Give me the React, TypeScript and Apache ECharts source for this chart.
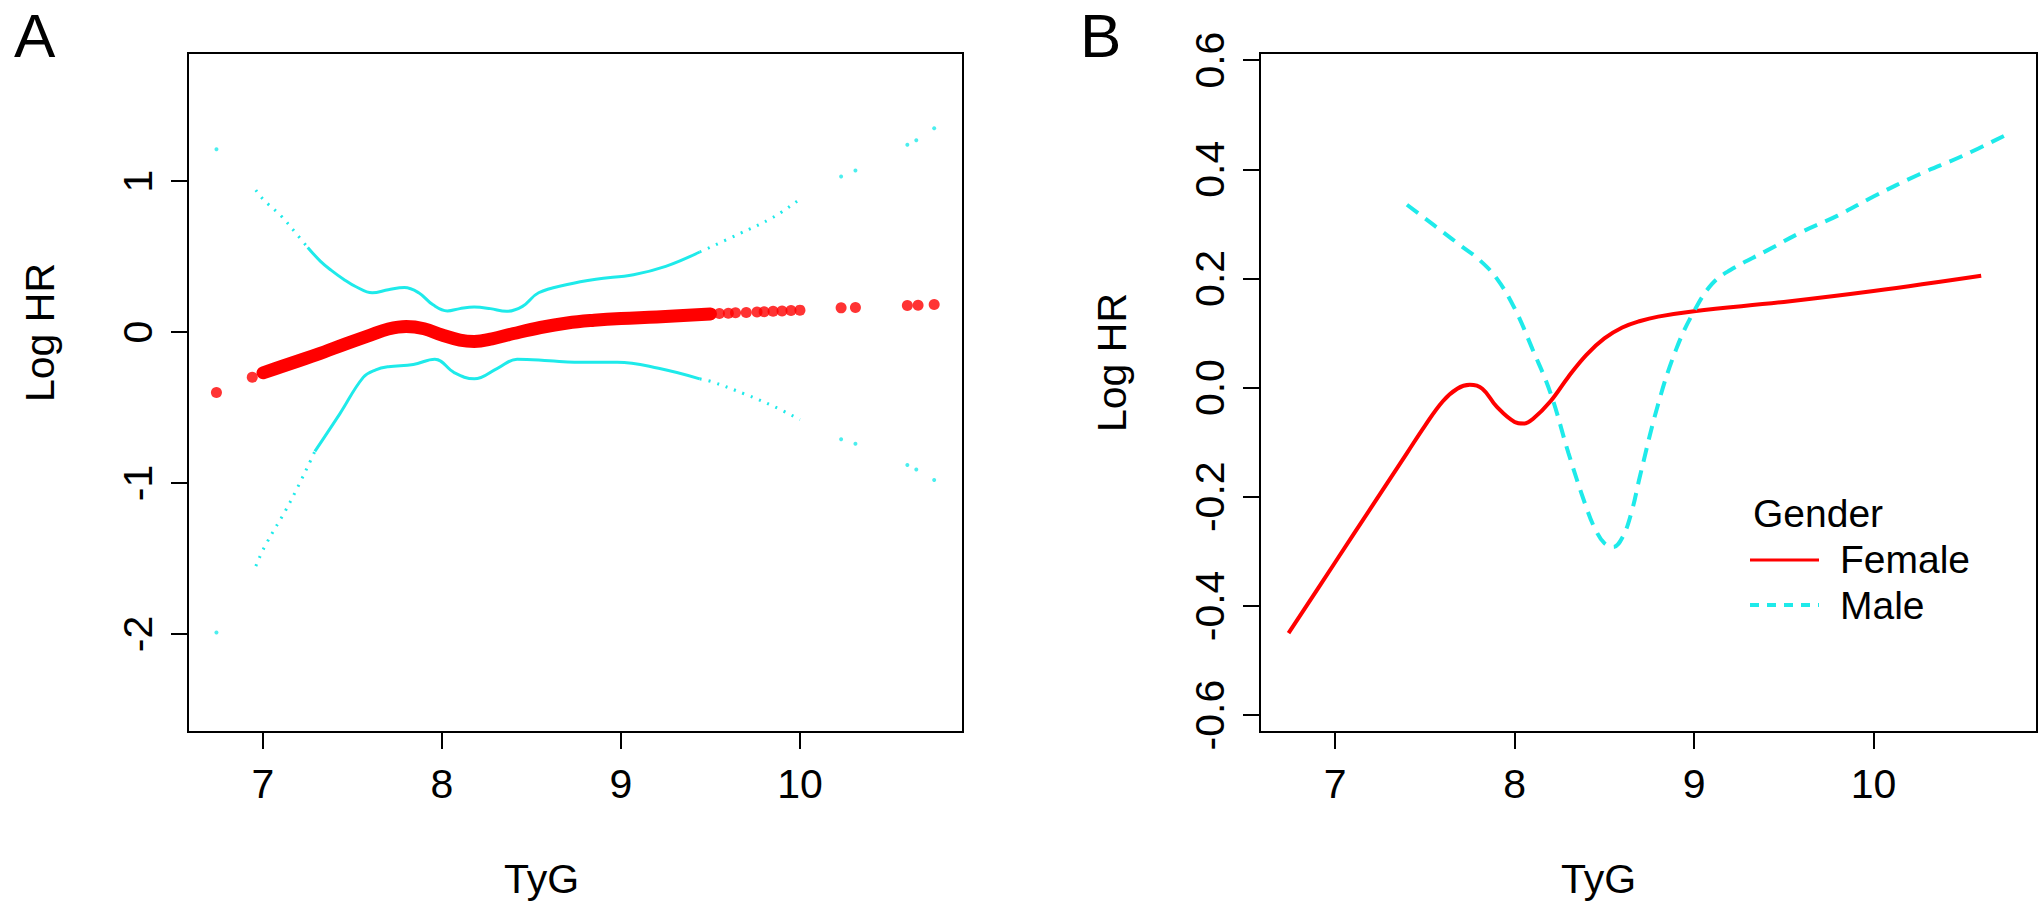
import React, { useEffect, useRef } from "react";
import * as echarts from "echarts";

const FONT = "'Liberation Sans', Arial, Helvetica, sans-serif";
const RED = "#FF0000";
const CYAN = "#1EEAEA";

// ---------- Panel A (overall) ----------
const aTicksX = [7, 8, 9, 10];
const aTicksY = [-2, -1, 0, 1];

// estimate (dense band)
const aEstX = [7.0, 7.1, 7.2, 7.3, 7.47, 7.6, 7.7, 7.8, 7.9, 8.0, 8.1, 8.18, 8.28, 8.4, 8.55, 8.7, 8.85, 9.0, 9.2, 9.5];
const aEstY = [-0.27, -0.23, -0.19, -0.15, -0.075, -0.02, 0.02, 0.037, 0.022, -0.02, -0.053, -0.062, -0.045, -0.01, 0.03, 0.06, 0.078, 0.09, 0.1, 0.12];
// estimate (isolated points)
const aDotX = [6.74, 6.94, 9.55, 9.6, 9.64, 9.7, 9.76, 9.8, 9.85, 9.9, 9.95, 10.0, 10.23, 10.31, 10.6, 10.66, 10.75];
const aDotY = [-0.4, -0.3, 0.122, 0.125, 0.127, 0.13, 0.133, 0.135, 0.137, 0.14, 0.142, 0.145, 0.16, 0.163, 0.175, 0.178, 0.182];

// upper CI
const aUpSolidX = [7.25, 7.32, 7.38, 7.45, 7.52, 7.61, 7.7, 7.79, 7.87, 7.95, 8.03, 8.1, 8.18, 8.27, 8.36, 8.45, 8.54, 8.7, 8.86, 9.07, 9.25, 9.44];
const aUpSolidY = [0.56, 0.47, 0.41, 0.35, 0.3, 0.26, 0.28, 0.295, 0.26, 0.18, 0.14, 0.155, 0.165, 0.155, 0.137, 0.17, 0.26, 0.315, 0.35, 0.38, 0.435, 0.53];
const aUpSparseX = [6.96, 7.0, 7.1, 7.18, 7.25, null, 9.44, 9.66, 9.85, 10.0];
const aUpSparseY = [0.94, 0.88, 0.77, 0.66, 0.56, null, 0.53, 0.65, 0.76, 0.88];
const aUpDotX = [6.74, 10.23, 10.31, 10.6, 10.65, 10.75];
const aUpDotY = [1.21, 1.03, 1.07, 1.24, 1.27, 1.35];

// lower CI
const aLoSolidX = [7.29, 7.43, 7.56, 7.63, 7.7, 7.84, 7.96, 8.07, 8.18, 8.31, 8.42, 8.6, 8.74, 8.98, 9.21, 9.44];
const aLoSolidY = [-0.79, -0.54, -0.3, -0.25, -0.23, -0.215, -0.18, -0.27, -0.31, -0.24, -0.18, -0.19, -0.2, -0.2, -0.24, -0.31];
const aLoSparseX = [6.96, 7.01, 7.15, 7.29, null, 9.44, 9.51, 9.69, 9.85, 10.0];
const aLoSparseY = [-1.55, -1.42, -1.13, -0.79, null, -0.31, -0.33, -0.41, -0.49, -0.58];
const aLoDotX = [6.74, 10.23, 10.31, 10.6, 10.65, 10.75];
const aLoDotY = [-1.99, -0.71, -0.74, -0.88, -0.91, -0.98];

// ---------- Panel B (by gender) ----------
const bTicksX = [7, 8, 9, 10];
const bTicksY = [-0.6, -0.4, -0.2, 0, 0.2, 0.4, 0.6];
const femaleX = [6.74, 7.0, 7.2, 7.4, 7.5, 7.6, 7.68, 7.75, 7.82, 7.9, 8.0, 8.05, 8.1, 8.2, 8.3, 8.4, 8.5, 8.6, 8.7, 8.8, 9.0, 9.5, 10.0, 10.6];
const femaleY = [-0.45, -0.32, -0.22, -0.12, -0.07, -0.025, -0.002, 0.005, -0.002, -0.035, -0.063, -0.066, -0.058, -0.025, 0.02, 0.06, 0.09, 0.11, 0.122, 0.13, 0.14, 0.157, 0.177, 0.205];
const maleX = [7.4, 7.5, 7.6, 7.7, 7.8, 7.9, 8.0, 8.1, 8.2, 8.3, 8.4, 8.45, 8.5, 8.55, 8.6, 8.65, 8.7, 8.8, 8.9, 9.0, 9.1, 9.2, 9.4, 9.6, 9.8, 10.0, 10.25, 10.5, 10.75];
const maleY = [0.335, 0.31, 0.285, 0.26, 0.235, 0.2, 0.145, 0.07, -0.01, -0.12, -0.22, -0.26, -0.285, -0.292, -0.275, -0.23, -0.16, -0.03, 0.07, 0.14, 0.19, 0.215, 0.25, 0.285, 0.315, 0.35, 0.39, 0.425, 0.465];

const legendTitle = "Gender";
const legendNames = ["Female", "Male"];

const zip = (xs: (number | null)[], ys: (number | null)[]) =>
  xs.map((x, i) => (x === null ? [null, null] : [x, ys[i]]));

function App() {
  const ref = useRef<HTMLDivElement>(null);
  useEffect(() => {
    document.body.style.margin = "0";
    const chart = echarts.init(ref.current!, null, { renderer: "svg" });

    const axisCommon = {
      type: "value" as const,
      axisLine: { show: false, onZero: false },
      splitLine: { show: false },
      nameLocation: "middle" as const,
    };
    const nameStyle = (padding: number[]) => ({ fontSize: 41, color: "#000", fontFamily: FONT, padding });
    const xAxisFor = (grid: number, ticks: number[], shift: number) => ({
      ...axisCommon,
      gridIndex: grid,
      min: 6.581,
      max: 10.911,
      name: "TyG",
      nameGap: 126,
      nameTextStyle: nameStyle([0, shift, 0, 0]),
      axisTick: { show: true, length: 17, customValues: ticks, lineStyle: { color: "#000", width: 2 } },
      axisLabel: { customValues: ticks, margin: 31, fontSize: 41, color: "#000", fontFamily: FONT },
    });
    const yAxisFor = (grid: number, ticks: number[], min: number, max: number, fmt: (v: number) => string, shift: number) => ({
      ...axisCommon,
      gridIndex: grid,
      min,
      max,
      name: "Log HR",
      nameGap: 128,
      nameRotate: 90,
      nameTextStyle: nameStyle([0, 0, 0, shift]),
      axisTick: { show: true, length: 17, customValues: ticks, lineStyle: { color: "#000", width: 2 } },
      axisLabel: { customValues: ticks, rotate: 90, margin: 30, fontSize: 41, color: "#000", fontFamily: FONT, formatter: fmt },
    });

    const option: any = {
      animation: false,
      backgroundColor: "#fff",
      grid: [
        { left: 188, top: 53, width: 775, height: 679, show: true, borderColor: "#000", borderWidth: 2, containLabel: false },
        { left: 1260, top: 53, width: 777, height: 679, show: true, borderColor: "#000", borderWidth: 2, containLabel: false },
      ],
      xAxis: [xAxisFor(0, aTicksX, 68), xAxisFor(1, bTicksX, 100)],
      yAxis: [
        yAxisFor(0, aTicksY, -2.649, 1.848, (v: number) => String(Math.round(v)), 120),
        yAxisFor(1, bTicksY, -0.631, 0.613, (v: number) => v.toFixed(1), 60),
      ],
      series: [
        // Panel A: CI
        { type: "line", xAxisIndex: 0, yAxisIndex: 0, data: zip(aUpSolidX, aUpSolidY), smooth: 0.4, symbol: "none", lineStyle: { color: CYAN, width: 3 } },
        { type: "line", xAxisIndex: 0, yAxisIndex: 0, data: zip(aUpSparseX, aUpSparseY), smooth: 0.4, symbol: "none", connectNulls: false, lineStyle: { color: CYAN, width: 3, type: [2, 7] } },
        { type: "scatter", xAxisIndex: 0, yAxisIndex: 0, data: zip(aUpDotX, aUpDotY), symbolSize: 4, itemStyle: { color: CYAN } },
        { type: "line", xAxisIndex: 0, yAxisIndex: 0, data: zip(aLoSolidX, aLoSolidY), smooth: 0.4, symbol: "none", lineStyle: { color: CYAN, width: 3 } },
        { type: "line", xAxisIndex: 0, yAxisIndex: 0, data: zip(aLoSparseX, aLoSparseY), smooth: 0.4, symbol: "none", connectNulls: false, lineStyle: { color: CYAN, width: 3, type: [2, 7] } },
        { type: "scatter", xAxisIndex: 0, yAxisIndex: 0, data: zip(aLoDotX, aLoDotY), symbolSize: 4, itemStyle: { color: CYAN } },
        // Panel A: estimate
        { type: "line", xAxisIndex: 0, yAxisIndex: 0, data: zip(aEstX, aEstY), smooth: 0.4, symbol: "none", lineStyle: { color: RED, width: 13, cap: "round", join: "round" } },
        { type: "scatter", xAxisIndex: 0, yAxisIndex: 0, data: zip(aDotX, aDotY), symbolSize: 11, itemStyle: { color: RED } },
        // Panel B
        { name: "Female", type: "line", xAxisIndex: 1, yAxisIndex: 1, data: zip(femaleX, femaleY), smooth: 0.4, symbol: "none", lineStyle: { color: RED, width: 4 } },
        { name: "Male", type: "line", xAxisIndex: 1, yAxisIndex: 1, data: zip(maleX, maleY), smooth: 0.4, symbol: "none", lineStyle: { color: CYAN, width: 4, type: [14, 9] } },
      ],
      graphic: [
        { type: "text", x: 14, y: 35, style: { text: "A", fontSize: 62, fill: "#000", fontFamily: FONT, verticalAlign: "middle" } },
        { type: "text", x: 1080, y: 35, style: { text: "B", fontSize: 62, fill: "#000", fontFamily: FONT, verticalAlign: "middle" } },
        { type: "text", x: 1753, y: 513, style: { text: legendTitle, fontSize: 39, fill: "#000", fontFamily: FONT, verticalAlign: "middle" } },
        { type: "line", shape: { x1: 1750, y1: 560, x2: 1819, y2: 560 }, style: { stroke: RED, lineWidth: 3 } },
        { type: "text", x: 1840, y: 559, style: { text: legendNames[0], fontSize: 39, fill: "#000", fontFamily: FONT, verticalAlign: "middle" } },
        { type: "line", shape: { x1: 1750, y1: 605, x2: 1819, y2: 605 }, style: { stroke: CYAN, lineWidth: 4, lineDash: [9, 8] } },
        { type: "text", x: 1840, y: 605, style: { text: legendNames[1], fontSize: 39, fill: "#000", fontFamily: FONT, verticalAlign: "middle" } },
      ],
    };
    chart.setOption(option);
    return () => chart.dispose();
  }, []);
  return <div ref={ref} style={{ position: "absolute", left: 0, top: 0, width: 2044, height: 909 }} />;
}

export default App;
